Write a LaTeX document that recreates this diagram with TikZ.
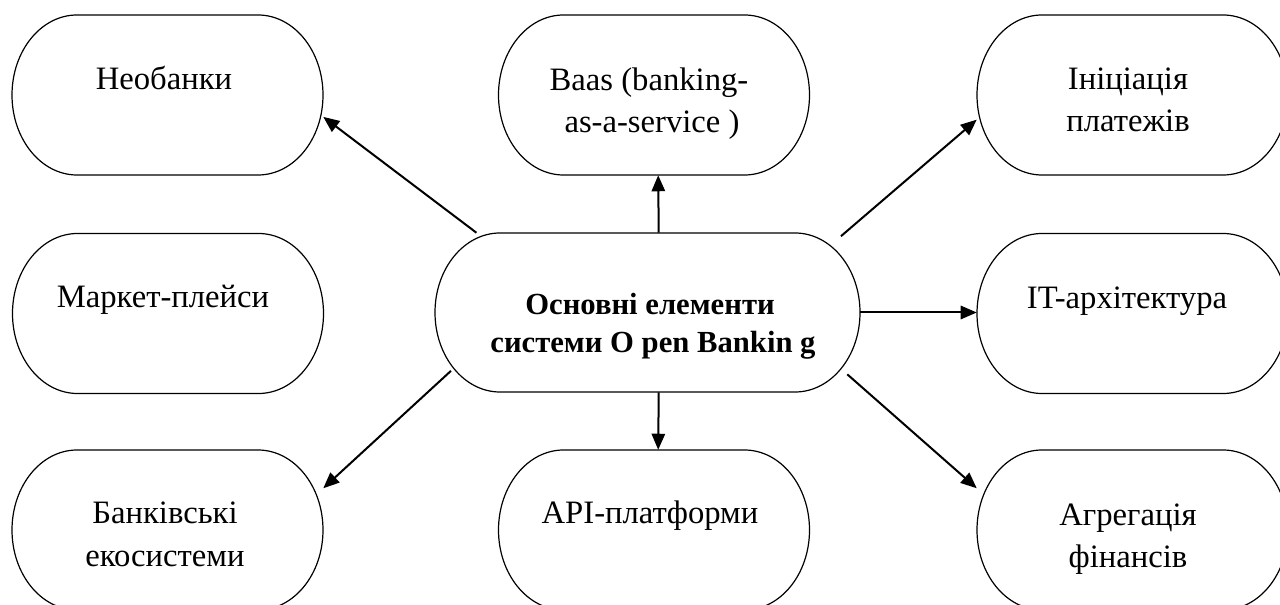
\documentclass[tikz,border=0pt]{standalone}
\usepackage{fontspec}
\setmainfont{Liberation Serif}
\usetikzlibrary{arrows.meta}

% Outline of a terminator shape (straight top/bottom, elliptical ends)
% around node #1: half width #2, half height #3, end radius #4 (all in pt)
\newcommand\terminatorline[4]{%
  \pgfmathsetmacro\tw{#2}\pgfmathsetmacro\th{#3}\pgfmathsetmacro\trx{#4}%
  \pgfmathsetmacro\ta{\tw-\trx}%
  \pgfmathsetmacro\tk{\tw-\trx+0.5523*\trx}%
  \pgfmathsetmacro\tkh{0.5523*\th}%
  \draw[outline]
    ([shift={(-\ta pt,\th pt)}]#1.center) -- ([shift={(\ta pt,\th pt)}]#1.center)
    .. controls ([shift={(\tk pt,\th pt)}]#1.center) and ([shift={(\tw pt,\tkh pt)}]#1.center)
    .. ([shift={(\tw pt,0pt)}]#1.center)
    .. controls ([shift={(\tw pt,-\tkh pt)}]#1.center) and ([shift={(\tk pt,-\th pt)}]#1.center)
    .. ([shift={(\ta pt,-\th pt)}]#1.center)
    -- ([shift={(-\ta pt,-\th pt)}]#1.center)
    .. controls ([shift={(-\tk pt,-\th pt)}]#1.center) and ([shift={(-\tw pt,-\tkh pt)}]#1.center)
    .. ([shift={(-\tw pt,0pt)}]#1.center)
    .. controls ([shift={(-\tw pt,\tkh pt)}]#1.center) and ([shift={(-\tk pt,\th pt)}]#1.center)
    .. cycle;}

\begin{document}
\begin{tikzpicture}[
  x=0.75pt, y=-0.75pt,
  outline/.style={draw=black, line width=0.9pt},
  pill/.style={rectangle, minimum width=233.25pt, minimum height=120pt, inner sep=0pt},
  corepill/.style={pill, minimum width=318.75pt, minimum height=119.25pt},
  txt/.style={anchor=base, inner sep=0pt, font=\fontsize{24.5}{32}\selectfont},
  boldtxt/.style={anchor=base, inner sep=0pt, font=\fontsize{23}{29}\selectfont\bfseries},
  link/.style={line width=1.5pt, -{Triangle[length=12pt,width=10pt]}}
]
\useasboundingbox (0,0) rectangle (1280,605);
\clip (0,0) rectangle (1280,605);

% shapes
\node[pill] (neo)    at (167.5,95)   {};
\node[pill] (baas)   at (654,95)     {};
\node[pill] (init)   at (1132.5,95)  {};
\node[pill] (market) at (168,313.5)  {};
\node[corepill] (core) at (647.5,312.5) {};
\node[pill] (it)     at (1132.5,313.5) {};
\node[pill] (bank)   at (167.5,530)  {};
\node[pill] (api)    at (654,530)    {};
\node[pill] (agg)    at (1132.5,530) {};

\foreach \n in {neo,baas,init,market,it,bank,api,agg}
  {\terminatorline{\n}{116.625}{60}{48.75}}
\terminatorline{core}{159.375}{59.625}{48.75}

% labels
\node[txt] (neo-t)    at (164,90)  {Необанки};
\node[txt] (baas-t1)  at (649,91)  {Baas (banking-};
\node[txt] (baas-t2)  at (652,133) {as-a-service )};
\node[txt] (init-t1)  at (1128,90) {Ініціація};
\node[txt] (init-t2)  at (1128,132) {платежів};
\node[txt] (market-t) at (163,308) {Маркет-плейси};
\node[boldtxt] (core-t1) at (650,315) {Основні елементи};
\node[boldtxt] (core-t2) at (653,353) {системи O pen Bankin g};
\node[txt] (it-t)     at (1127,309) {IT-архітектура};
\node[txt] (bank-t1)  at (165,523) {Банківські};
\node[txt] (bank-t2)  at (165,566) {екосистеми};
\node[txt] (api-t)    at (650,523) {API-платформи};
\node[txt] (agg-t1)   at (1128,525) {Агрегація};
\node[txt] (agg-t2)   at (1128,567) {фінансів};

% connectors from the central element
\draw[link] (core.155.2) -- (neo.-8.4);
\draw[link] (core.82.5) -- (baas.-87.1);
\draw[link, shorten <=-4pt] (core.22.76) -- (init.189.1);
\draw[link] (core.east) -- (core.east -| it.west);
\draw[link, shorten <=-13pt] (core.-19.2) -- (agg.165.7);
\draw[link] (core.-82.5) -- (api.87.1);
\draw[link, shorten <=-16.5pt] (core.199.8) -- (bank.15.3);
\end{tikzpicture}
\end{document}
